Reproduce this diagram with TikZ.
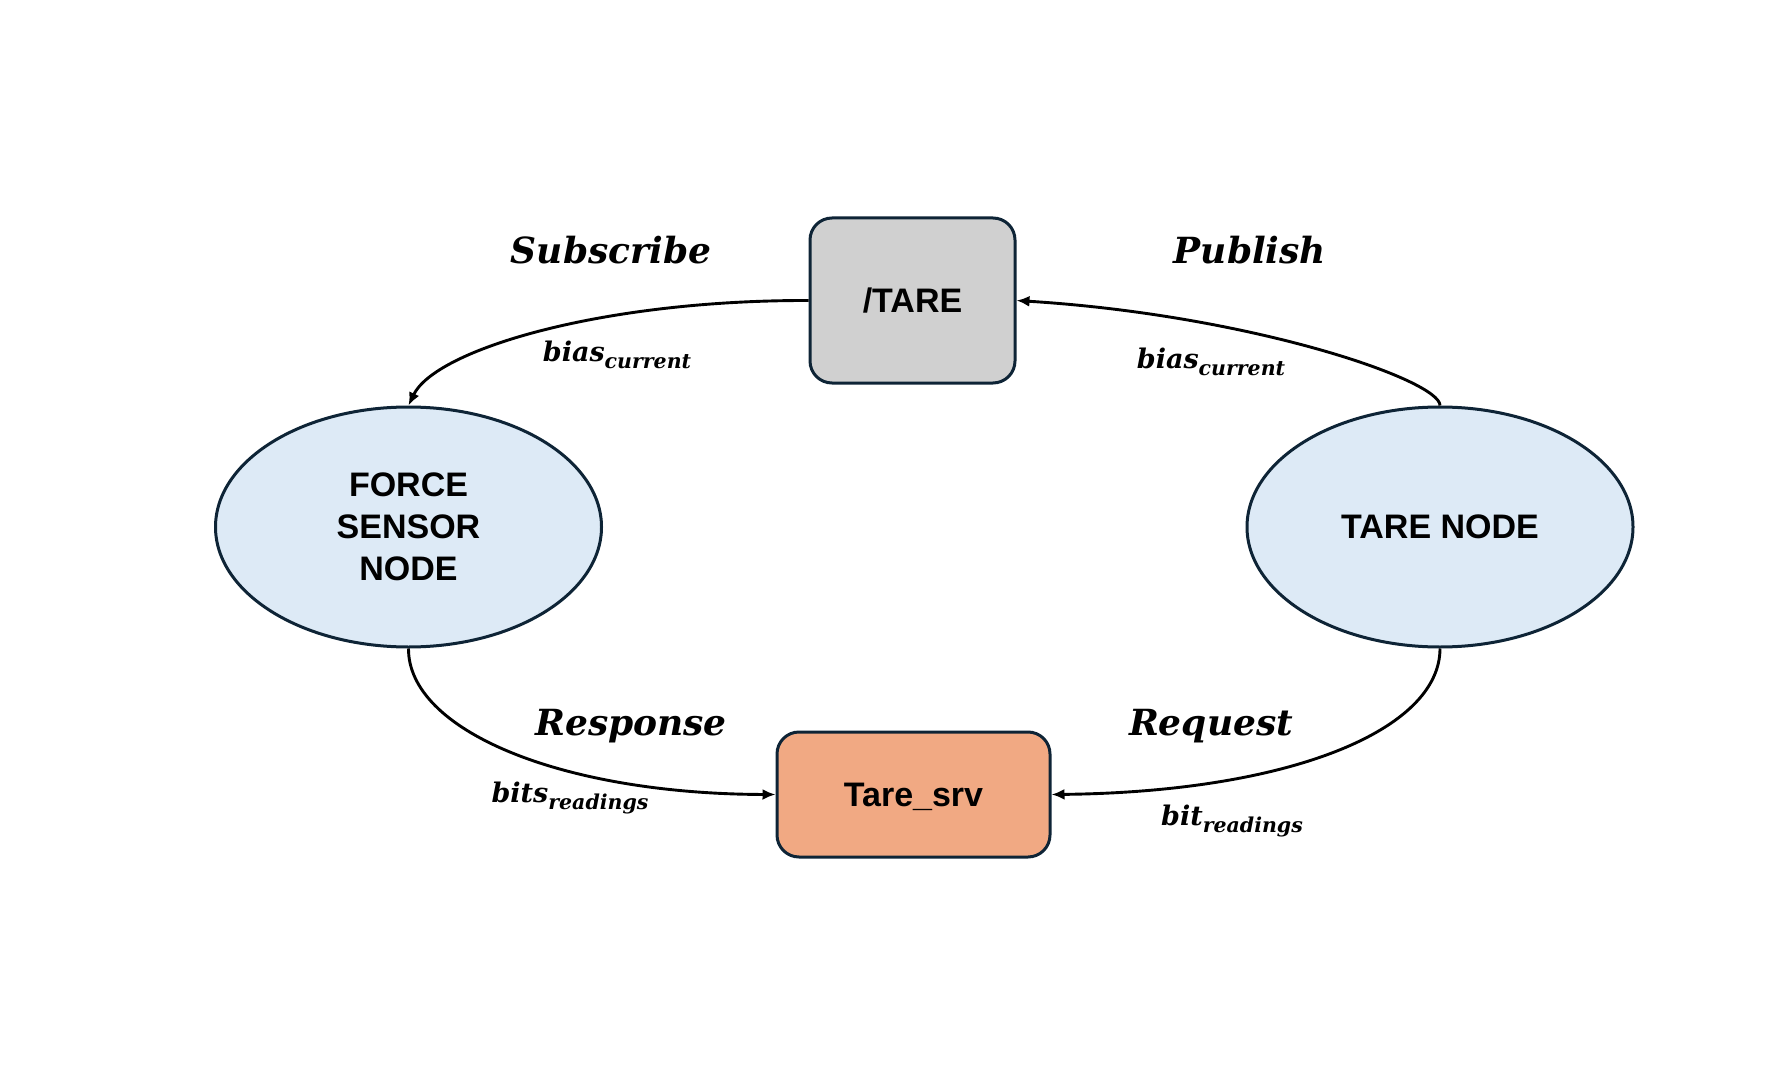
\documentclass[tikz,border=0pt]{standalone}
\usepackage{fontspec}
\newfontfamily\arialb{Liberation Sans}
\newfontfamily\labfont{DejaVu Serif}
\usetikzlibrary{shapes.geometric,arrows.meta}
\definecolor{edgecol}{HTML}{0E2436}
\definecolor{taregray}{HTML}{D0D0D0}
\definecolor{nodeblue}{HTML}{DDEAF6}
\definecolor{srvorange}{HTML}{F1A983}
\newcommand\labsub[2]{#1\raisebox{-7pt}{\fontsize{20.5}{24}\selectfont #2}}
\begin{document}
\begin{tikzpicture}[x=1pt,y=-1pt,
  boxnode/.style={draw=edgecol, line width=3pt, rounded corners=22pt, inner sep=0pt,
    font=\arialb\bfseries\fontsize{34}{41}\selectfont, text depth=0pt},
  ovalnode/.style={ellipse, draw=edgecol, line width=3pt, fill=nodeblue,
    minimum width=386pt, minimum height=240pt, inner sep=0pt, align=center,
    font=\arialb\bfseries\fontsize{34}{42}\selectfont},
  conn/.style={line width=2.9pt, -{Latex[length=13pt,width=11pt]}},
  biglabel/.style={font=\labfont\bfseries\itshape\fontsize{36}{43}\selectfont, anchor=base, inner sep=0pt},
  smalllabel/.style={font=\labfont\bfseries\itshape\fontsize{27}{32}\selectfont, anchor=base, inner sep=0pt}]
\useasboundingbox (0,0) rectangle (1786,1086);

\node[boxnode, fill=taregray, minimum width=205pt, minimum height=165pt] (tare) at (912.5,300.5) {/TARE};
\node[boxnode, fill=srvorange, minimum width=273pt, minimum height=125pt] (srv) at (913.5,794.5) {Tare\_srv};
\node[ovalnode] (force) at (408.5,527) {FORCE\\SENSOR\\NODE};
\node[ovalnode] (tnode) at (1440,527) {TARE NODE};

\draw[conn] (tare.west) .. controls (600,300) and (435,350) .. (force.north);
\draw[conn] (tnode.north) .. controls (1440,380) and (1250,315) .. (tare.east);
\draw[conn] (force.south) .. controls (408,730) and (560,794) .. (srv.west);
\draw[conn] (tnode.south) .. controls (1440,730) and (1290,792) .. (srv.east);

\node[biglabel] (lsub) at (611,263) {Subscribe};
\node[smalllabel] (lb1) at (617,361) {\labsub{bias}{current}};
\node[biglabel] (lpub) at (1250,263) {Publish};
\node[smalllabel] (lb2) at (1211,368) {\labsub{bias}{current}};
\node[biglabel] (lres) at (631,735) {Response};
\node[smalllabel] (lb3) at (570,802) {\labsub{bits}{readings}};
\node[biglabel] (lreq) at (1211,735) {Request};
\node[smalllabel] (lb4) at (1232,825) {\labsub{bit}{readings}};
\end{tikzpicture}
\end{document}
